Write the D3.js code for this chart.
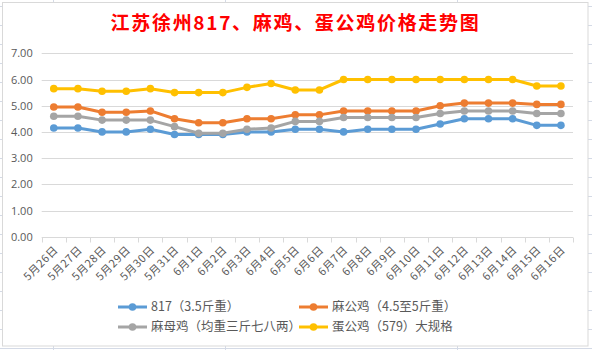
<!DOCTYPE html>
<html><head><meta charset="utf-8">
<script src="https://cdn.jsdelivr.net/npm/d3@7"></script>
<style>body{margin:0;background:#fff}svg{display:block}</style>
</head><body>
<script>
const categories = ["5月26日","5月27日","5月28日","5月29日","5月30日","5月31日","6月1日","6月2日","6月3日","6月4日","6月5日","6月6日","6月7日","6月8日","6月9日","6月10日","6月11日","6月12日","6月13日","6月14日","6月15日","6月16日"];
const s817 = [4.15,4.15,4.0,4.0,4.1,3.9,3.9,3.9,4.0,4.0,4.1,4.1,4.0,4.1,4.1,4.1,4.3,4.5,4.5,4.5,4.25,4.25];
const sMaGong = [4.95,4.95,4.75,4.75,4.8,4.5,4.35,4.35,4.5,4.5,4.65,4.65,4.8,4.8,4.8,4.8,5.0,5.1,5.1,5.1,5.05,5.05];
const sMaMu = [4.6,4.6,4.45,4.45,4.45,4.2,3.95,3.95,4.1,4.15,4.4,4.4,4.55,4.55,4.55,4.55,4.7,4.8,4.8,4.8,4.7,4.7];
const sDanGong = [5.65,5.65,5.55,5.55,5.65,5.5,5.5,5.5,5.7,5.85,5.6,5.6,6.0,6.0,6.0,6.0,6.0,6.0,6.0,6.0,5.75,5.75];
const seriesNames = ["817（3.5斤重）","麻公鸡（4.5至5斤重）","麻母鸡（均重三斤七八两）","蛋公鸡（579）大规格"];
const yTicks = [0,1,2,3,4,5,6,7];
const title = "江苏徐州817、麻鸡、蛋公鸡价格走势图";

const colors = ["#5b9bd5","#ed7d31","#a5a5a5","#ffc000"];
const series = [s817, sMaGong, sMaMu, sDanGong];

const W = 592, H = 350;
const svg = d3.select("body").append("svg").attr("width", W).attr("height", H);

// spreadsheet background grid
const bg = svg.append("g");
for (let yy = 6; yy < H; yy += 19) {
  bg.append("line").attr("x1",0).attr("x2",W).attr("y1",yy+0.5).attr("y2",yy+0.5).attr("stroke","#d4dae6");
}
[53,225,457].forEach(xx=>bg.append("line").attr("x1",xx+0.5).attr("x2",xx+0.5).attr("y1",0).attr("y2",H).attr("stroke","#d4dae6"));

// chart area
svg.append("rect").attr("x",2.5).attr("y",2.5).attr("width",585.5).attr("height",343.5)
  .attr("fill","#fff").attr("stroke","#d9d9d9");

const pLeft = 41.7, pRight = 573, pTop = 53.3, pBottom = 236.7;
const x = d3.scaleBand().domain(categories).range([pLeft, pRight]);
const y = d3.scaleLinear().domain([0,7]).range([pBottom, pTop]);

// title
svg.append("text").attr("x",295.5).attr("y",29.5).attr("text-anchor","middle")
  .attr("font-family","'Noto Sans CJK SC', sans-serif").attr("font-weight","bold")
  .attr("font-size",19).attr("letter-spacing","1.7px").attr("fill","#ff0000").text(title);

// gridlines
svg.append("g").selectAll("line").data(yTicks.filter(d=>d>0)).join("line")
  .attr("x1",pLeft).attr("x2",pRight)
  .attr("y1",d=>Math.round(y(d))+0.5).attr("y2",d=>Math.round(y(d))+0.5)
  .attr("stroke","#d9d9d9").attr("stroke-width",1);

// y axis labels
const yAxis = d3.axisLeft(y).tickValues(yTicks).tickFormat(d3.format(".2f")).tickSize(0).tickPadding(9);
const gy = svg.append("g").attr("transform",`translate(${pLeft},0)`).call(yAxis);
gy.select(".domain").remove();
gy.selectAll("text").attr("font-family","'Open Sans', 'Noto Sans CJK SC', sans-serif").attr("font-size",11).attr("fill","#595959");

// x axis
const xAxis = d3.axisBottom(x).tickSize(0).tickPadding(0);
const gx = svg.append("g").attr("transform",`translate(0,${Math.round(pBottom)+0.5})`).call(xAxis);
gx.select(".domain").attr("stroke","#d9d9d9").attr("d",`M${pLeft},0H${pRight}`);
gx.selectAll(".tick text")
  .attr("font-family","'Noto Sans CJK SC', sans-serif").attr("font-size",11).attr("fill","#595959")
  .attr("letter-spacing","0.6px")
  .attr("text-anchor","end").attr("dy",0).attr("y",0)
  .attr("transform","translate(5,13) rotate(-45)");
// boundary ticks
const bounds = d3.range(categories.length+1).map(i=>pLeft + i*x.step());
gx.append("g").selectAll("line").data(bounds).join("line")
  .attr("x1",d=>Math.round(d)+0.5).attr("x2",d=>Math.round(d)+0.5).attr("y1",0).attr("y2",5)
  .attr("stroke","#d9d9d9");

// lines
const line = d3.line().x((d,i)=>x(categories[i])+x.bandwidth()/2).y(d=>y(d));
series.forEach((s,k)=>{
  const g = svg.append("g");
  g.append("path").datum(s).attr("d",line).attr("fill","none").attr("stroke",colors[k])
    .attr("stroke-width",3).attr("stroke-linejoin","round");
  g.selectAll("circle").data(s).join("circle")
    .attr("cx",(d,i)=>x(categories[i])+x.bandwidth()/2).attr("cy",d=>y(d))
    .attr("r",3.8).attr("fill",colors[k]);
});

// legend
const legPos = [[118,307],[299,307],[118,327],[299,327]];
seriesNames.forEach((n,k)=>{
  const [lx,ly] = legPos[k];
  const g = svg.append("g").attr("transform",`translate(${lx},${ly})`);
  g.append("line").attr("x1",0).attr("x2",29).attr("stroke",colors[k]).attr("stroke-width",3);
  g.append("circle").attr("cx",14.5).attr("r",3.8).attr("fill",colors[k]);
  g.append("text").attr("x",33).attr("y",0).attr("dy","0.35em")
    .attr("font-family","'Noto Sans CJK SC', sans-serif").attr("font-size",12.5).attr("fill","#595959").text(n);
});
</script>
</body></html>
